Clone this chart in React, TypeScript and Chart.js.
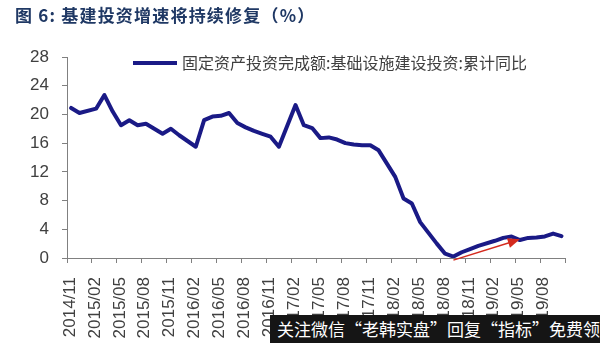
import { useEffect, useRef } from 'react';
import { Chart, registerables } from 'chart.js';

Chart.register(...registerables);

const titleText = '图 6: 基建投资增速将持续修复（%）';
const seriesName = '固定资产投资完成额:基础设施建设投资:累计同比';
const watermarkText = '关注微信“老韩实盘”回复“指标”免费领';

const months: string[] = [
  '2014/11', '2014/12',
  '2015/01', '2015/02', '2015/03', '2015/04', '2015/05', '2015/06', '2015/07', '2015/08', '2015/09', '2015/10', '2015/11', '2015/12',
  '2016/01', '2016/02', '2016/03', '2016/04', '2016/05', '2016/06', '2016/07', '2016/08', '2016/09', '2016/10', '2016/11', '2016/12',
  '2017/01', '2017/02', '2017/03', '2017/04', '2017/05', '2017/06', '2017/07', '2017/08', '2017/09', '2017/10', '2017/11', '2017/12',
  '2018/01', '2018/02', '2018/03', '2018/04', '2018/05', '2018/06', '2018/07', '2018/08', '2018/09', '2018/10', '2018/11', '2018/12',
  '2019/01', '2019/02', '2019/03', '2019/04', '2019/05', '2019/06', '2019/07', '2019/08', '2019/09', '2019/10',
];

const values: (number | null)[] = [
  20.9, 20.2,
  null, 20.8, 22.7, 20.4, 18.5, 19.2, 18.5, 18.7, 18.0, 17.3, 18.0, 17.1,
  null, 15.5, 19.2, 19.7, 19.8, 20.2, 18.8, 18.2, 17.7, 17.3, 16.9, 15.5,
  null, 21.3, 18.5, 18.1, 16.7, 16.8, 16.5, 16.0, 15.8, 15.7, 15.7, 15.0,
  null, 11.3, 8.3, 7.6, 5.0, 3.5, 2.0, 0.6, 0.2, 0.8, 1.25, 1.7,
  null, 2.4, 2.8, 3.0, 2.5, 2.8, 2.85, 3.0, 3.4, 3.05,
];

const tickLabels: string[] = [
  '2014/11', '2015/02', '2015/05', '2015/08', '2015/11', '2016/02', '2016/05', '2016/08',
  '2016/11', '2017/02', '2017/05', '2017/08', '2017/11', '2018/02', '2018/05', '2018/08',
  '2018/11', '2019/02', '2019/05', '2019/08',
];

const arrowFrom = { month: '2018/09', value: -0.3 };
const arrowTo = { month: '2019/05', value: 2.6 };

const navy = '#1a1a86';

const overlayPlugin = {
  id: 'overlay',
  afterDraw(chart: any) {
    const { ctx, scales } = chart;
    const xs = scales.x;
    const ys = scales.y;
    // arrow
    const x1 = xs.getPixelForValue(months.indexOf(arrowFrom.month) + 0.5);
    const y1 = ys.getPixelForValue(arrowFrom.value);
    const x2 = xs.getPixelForValue(months.indexOf(arrowTo.month) + 0.5);
    const y2 = ys.getPixelForValue(arrowTo.value);
    const ang = Math.atan2(y2 - y1, x2 - x1);
    const headLen = 12;
    const headW = 5;
    ctx.save();
    ctx.strokeStyle = '#d42a1e';
    ctx.fillStyle = '#d42a1e';
    ctx.lineWidth = 1.5;
    ctx.beginPath();
    ctx.moveTo(x1, y1);
    ctx.lineTo(x2 - Math.cos(ang) * headLen * 0.8, y2 - Math.sin(ang) * headLen * 0.8);
    ctx.stroke();
    ctx.beginPath();
    ctx.moveTo(x2, y2);
    ctx.lineTo(x2 - Math.cos(ang) * headLen + Math.sin(ang) * headW, y2 - Math.sin(ang) * headLen - Math.cos(ang) * headW);
    ctx.lineTo(x2 - Math.cos(ang) * headLen - Math.sin(ang) * headW, y2 - Math.sin(ang) * headLen + Math.cos(ang) * headW);
    ctx.closePath();
    ctx.fill();

    // title
    ctx.fillStyle = '#1f3864';
    ctx.font = 'bold 17px "Noto Sans CJK SC"';
    ctx.textBaseline = 'middle';
    ctx.textAlign = 'left';
    (ctx as any).letterSpacing = '1.2px';
    ctx.fillText(titleText, 15, 16);
    (ctx as any).letterSpacing = '0px';

    // legend
    ctx.strokeStyle = navy;
    ctx.lineWidth = 4;
    ctx.beginPath();
    ctx.moveTo(133, 63);
    ctx.lineTo(177, 63);
    ctx.stroke();
    ctx.fillStyle = '#404040';
    ctx.font = '16px "Noto Sans CJK SC"';
    ctx.fillText(seriesName, 182, 63);
    ctx.restore();
  },
};

export default function App() {
  const ref = useRef<HTMLCanvasElement>(null);

  useEffect(() => {
    if (!ref.current) return;
    Chart.defaults.font.family = '"Liberation Sans", Arial, sans-serif';
    const chart = new Chart(ref.current, {
      type: 'line',
      data: {
        datasets: [
          {
            label: seriesName,
            data: values.map((v, i) => ({ x: i + 0.5, y: v })) as any,
            borderColor: navy,
            backgroundColor: navy,
            borderWidth: 4,
            pointRadius: 0,
            tension: 0,
            spanGaps: true,
            fill: false,
            borderJoinStyle: 'round',
            borderCapStyle: 'round',
          },
        ],
      },
      options: {
        animation: false,
        responsive: false,
        events: [],
        layout: { padding: { top: 57, right: 15, left: 0, bottom: 0 } },
        plugins: {
          legend: { display: false },
          title: { display: false },
          tooltip: { enabled: false },
        },
        scales: {
          x: {
            type: 'linear',
            min: 0,
            max: 60,
            afterFit: (s: any) => {
              s.height = 85;
            },
            ticks: {
              stepSize: 3,
              autoSkip: false,
              maxRotation: 90,
              minRotation: 90,
              padding: 14,
              labelOffset: 3,
              color: '#404040',
              font: { size: 17 },
              callback: (v: any) => {
                const k = Math.round(Number(v) / 3);
                return k < tickLabels.length ? tickLabels[k] : '';
              },
            },
            grid: { drawOnChartArea: false, drawTicks: true, tickLength: 5, color: '#808080' },
            border: { display: true, color: '#808080', width: 1 },
          },
          y: {
            type: 'linear',
            min: 0,
            max: 28,
            afterFit: (s: any) => {
              s.width = 67;
            },
            ticks: {
              stepSize: 4,
              padding: 13,
              color: '#404040',
              font: { size: 17 },
            },
            grid: { drawOnChartArea: false, drawTicks: true, tickLength: 5, color: '#808080' },
            border: { display: true, color: '#808080', width: 1 },
          },
        },
      },
      plugins: [overlayPlugin],
    } as any);
    return () => chart.destroy();
  }, []);

  return (
    <div style={{ position: 'absolute', left: 0, top: 0, width: 600, height: 343, background: '#fff', overflow: 'hidden' }}>
      <canvas ref={ref} width={600} height={343} style={{ display: 'block' }} />
      <div
        style={{
          position: 'absolute',
          left: 270,
          top: 315,
          width: 330,
          height: 28,
          background: '#151515',
          color: '#fff',
          fontFamily: '"Noto Sans CJK SC", sans-serif',
          fontSize: 17,
          lineHeight: '28px',
          whiteSpace: 'nowrap',
          overflow: 'hidden',
          paddingLeft: 7,
          boxSizing: 'border-box',
        }}
      >
        {watermarkText}
      </div>
    </div>
  );
}
